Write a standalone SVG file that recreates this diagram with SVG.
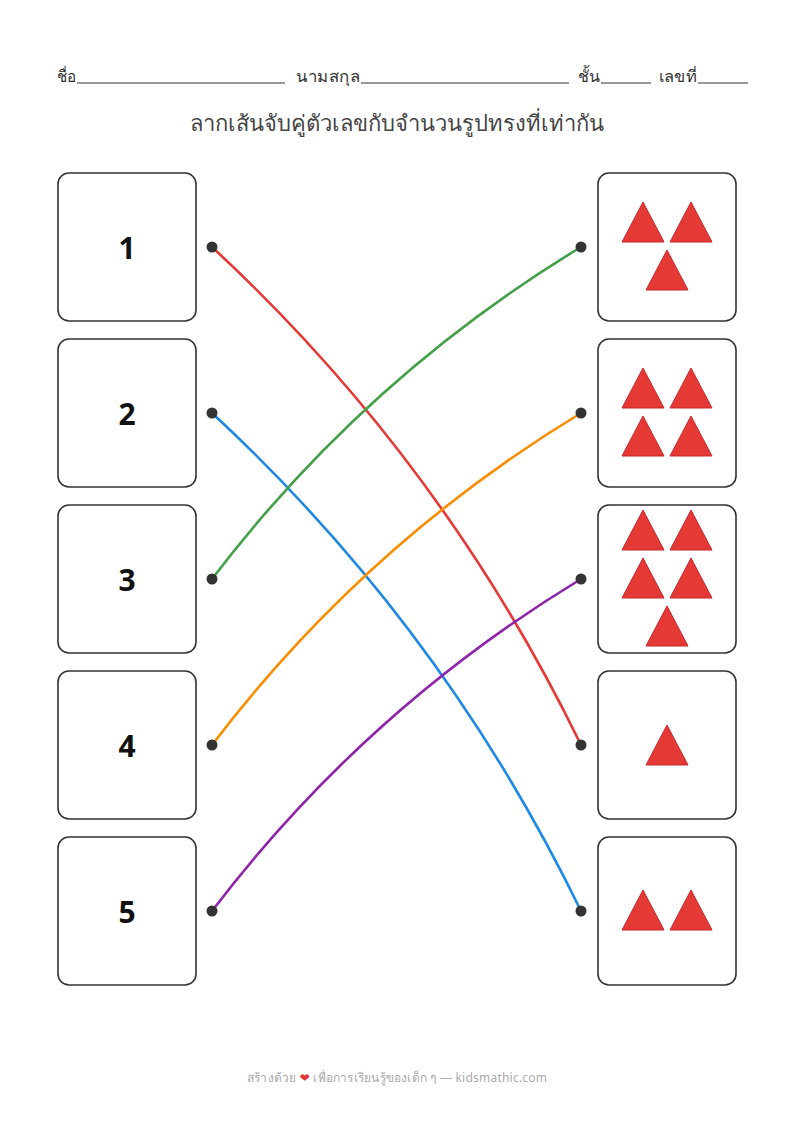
<svg xmlns="http://www.w3.org/2000/svg" width="794" height="1123" viewBox="0 0 794 1123">
<style>
.hdr{font-family:"Noto Sans","DejaVu Sans",sans-serif;font-size:16px;fill:#333}
.ul{stroke:#333;stroke-width:1}
.title{font-family:"Noto Sans","DejaVu Sans",sans-serif;font-size:22px;fill:#444;text-anchor:middle}
.box{fill:#fff;stroke:#333;stroke-width:1.6}
.num{font-family:"Noto Sans","Liberation Sans",sans-serif;font-weight:bold;font-size:30px;fill:#111;text-anchor:middle}
.tri{fill:#e53935;stroke:#c62828;stroke-width:1}
.dot{fill:#333}
.ln{fill:none;stroke-width:2.6;stroke-linecap:round}
.foot{font-family:"Noto Sans","DejaVu Sans",sans-serif;font-size:12px;fill:#aaa}
</style>
<defs>
<path id="t" class="tri" d="M0,-20 L21,20 L-21,20 Z"/>
</defs>
<rect width="794" height="1123" fill="#fff"/>
<g id="header">
<text class="hdr" x="57" y="82" textLength="20" lengthAdjust="spacingAndGlyphs">ชื่อ</text>
<line class="ul" x1="77" y1="83" x2="285" y2="83"/>
<text class="hdr" x="296" y="82" textLength="64" lengthAdjust="spacingAndGlyphs">นามสกุล</text>
<line class="ul" x1="361" y1="83" x2="569" y2="83"/>
<text class="hdr" x="578" y="82" textLength="22" lengthAdjust="spacingAndGlyphs">ชั้น</text>
<line class="ul" x1="601" y1="83" x2="651" y2="83"/>
<text class="hdr" x="659" y="82" textLength="38" lengthAdjust="spacingAndGlyphs">เลขที่</text>
<line class="ul" x1="698" y1="83" x2="748" y2="83"/>
</g>
<text id="title" class="title" x="397" y="131">ลากเส้นจับคู่ตัวเลขกับจำนวนรูปทรงที่เท่ากัน</text>
<g id="connectors">
<path class="ln" stroke="#e53935" d="M212,247 Q443,461 581,745"/>
<path class="ln" stroke="#1e88e5" d="M212,413 Q443,627 581,911"/>
<path class="ln" stroke="#43a047" d="M212,579 Q365,378 581,247"/>
<path class="ln" stroke="#fb8c00" d="M212,745 Q365,544 581,413"/>
<path class="ln" stroke="#8e24aa" d="M212,911 Q365,710 581,579"/>
</g>
<g id="left1"><rect class="box" x="58" y="173" width="138" height="148" rx="11"/><text class="num" x="127" y="259">1</text><circle class="dot" cx="212" cy="247" r="5.5"/></g>
<g id="left2"><rect class="box" x="58" y="339" width="138" height="148" rx="11"/><text class="num" x="127" y="425">2</text><circle class="dot" cx="212" cy="413" r="5.5"/></g>
<g id="left3"><rect class="box" x="58" y="505" width="138" height="148" rx="11"/><text class="num" x="127" y="591">3</text><circle class="dot" cx="212" cy="579" r="5.5"/></g>
<g id="left4"><rect class="box" x="58" y="671" width="138" height="148" rx="11"/><text class="num" x="127" y="757">4</text><circle class="dot" cx="212" cy="745" r="5.5"/></g>
<g id="left5"><rect class="box" x="58" y="837" width="138" height="148" rx="11"/><text class="num" x="127" y="923">5</text><circle class="dot" cx="212" cy="911" r="5.5"/></g>
<g id="right1"><rect class="box" x="598" y="173" width="138" height="148" rx="11"/>
<use href="#t" x="643" y="222"/><use href="#t" x="691" y="222"/><use href="#t" x="667" y="270"/>
<circle class="dot" cx="581" cy="247" r="5.5"/></g>
<g id="right2"><rect class="box" x="598" y="339" width="138" height="148" rx="11"/>
<use href="#t" x="643" y="388"/><use href="#t" x="691" y="388"/><use href="#t" x="643" y="436"/><use href="#t" x="691" y="436"/>
<circle class="dot" cx="581" cy="413" r="5.5"/></g>
<g id="right3"><rect class="box" x="598" y="505" width="138" height="148" rx="11"/>
<use href="#t" x="643" y="530"/><use href="#t" x="691" y="530"/><use href="#t" x="643" y="578"/><use href="#t" x="691" y="578"/><use href="#t" x="667" y="626"/>
<circle class="dot" cx="581" cy="579" r="5.5"/></g>
<g id="right4"><rect class="box" x="598" y="671" width="138" height="148" rx="11"/>
<use href="#t" x="667" y="745"/>
<circle class="dot" cx="581" cy="745" r="5.5"/></g>
<g id="right5"><rect class="box" x="598" y="837" width="138" height="148" rx="11"/>
<use href="#t" x="643" y="910"/><use href="#t" x="691" y="910"/>
<circle class="dot" cx="581" cy="911" r="5.5"/></g>
<text id="footer" class="foot" x="247" y="1082" textLength="300" lengthAdjust="spacing">สร้างด้วย <tspan fill="#e53935">❤</tspan> เพื่อการเรียนรู้ของเด็ก ๆ — kidsmathic.com</text>
</svg>
